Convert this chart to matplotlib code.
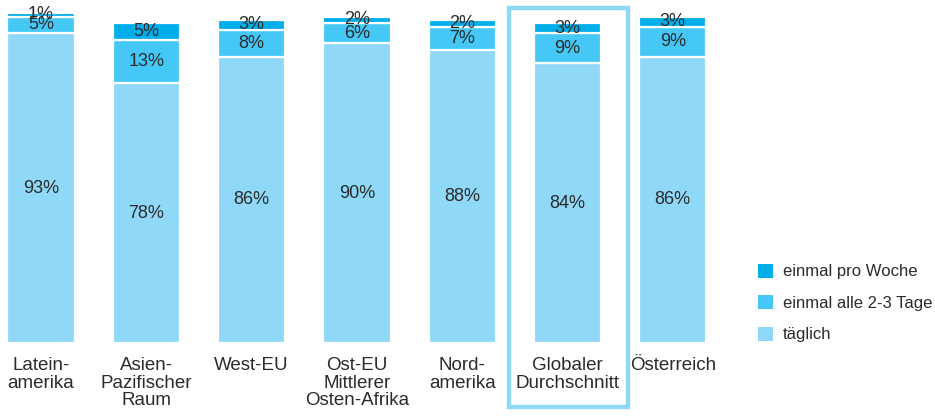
import matplotlib
matplotlib.use("Agg")
import numpy as np
from matplotlib import pyplot as plt
from matplotlib.patches import Rectangle, Patch

plt.rcParams['font.family'] = ['Liberation Sans', 'DejaVu Sans']

categories = ['Latein-\namerika', 'Asien-\nPazifischer\nRaum', 'West-EU',
              'Ost-EU\nMittlerer\nOsten-Afrika', 'Nord-\namerika',
              'Globaler\nDurchschnitt', 'Österreich']
taeglich = [93, 78, 86, 90, 88, 84, 86]
alle_2_3 = [5, 13, 8, 6, 7, 9, 9]
woche = [1, 5, 3, 2, 2, 3, 3]
series_names = ['täglich', 'einmal alle 2-3 Tage', 'einmal pro Woche']
colors = ['#8fd8f7', '#45c8f5', '#00aeea']
highlight = 5

fig = plt.figure(figsize=(9.35, 4.2), dpi=100)
W, H = 935, 420
# axes: x from 0 to 720 px, baseline at y=343 px, top at 5 px
ax = fig.add_axes([0, (H - 343) / H, 720 / W, 338 / H])
step = 105.3
x = np.arange(len(categories))
ax.set_xlim(-41 / step, (720 - 41) / step)
ax.set_ylim(0, 338 / 3.33)

bottom = np.zeros(len(categories))
for vals, col in zip([taeglich, alle_2_3, woche], colors):
    vals = np.array(vals, dtype=float)
    ax.bar(x, vals, bottom=bottom, width=0.64, color=col,
           edgecolor='white', linewidth=1.6)
    for xi, b, v in zip(x, bottom, vals):
        ax.text(xi, b + v / 2, f'{int(v)}%', ha='center', va='center',
                fontsize=13, color='#2b2b2b')
    bottom += vals

ax.set_xticks(x)
ax.set_xticklabels(categories, fontsize=13.5, color='#2b2b2b', va='top',
                   linespacing=1.05)
ax.tick_params(axis='x', length=0, pad=10)
ax.set_yticks([])
for s in ax.spines.values():
    s.set_visible(False)

# highlight box around global average
ax.add_patch(Rectangle((highlight - 0.555, -19.2), 1.13, 119.8, fill=False,
                       edgecolor='#8fd8f7', linewidth=3.2, clip_on=False))

handles = [Patch(facecolor=c, edgecolor='none') for c in colors[::-1]]
fig.legend(handles, series_names[::-1], loc='center left',
           bbox_to_anchor=(743 / W, (H - 303) / H), frameon=False,
           fontsize=12, handlelength=0.9, handleheight=0.9,
           labelspacing=0.95, handletextpad=0.6, labelcolor='#2b2b2b')

fig.savefig('out.png', dpi=100)
